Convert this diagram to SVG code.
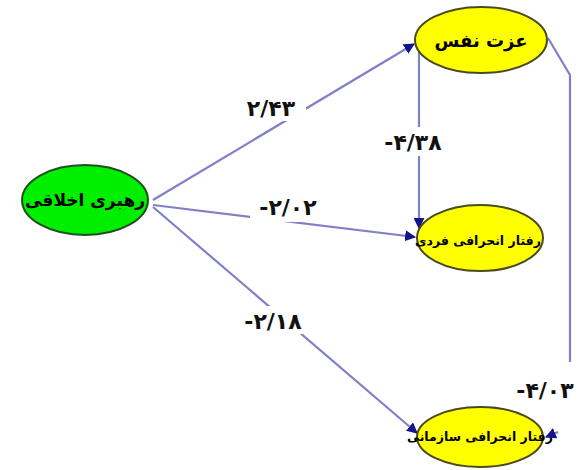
<svg xmlns="http://www.w3.org/2000/svg" width="586" height="470" viewBox="0 0 586 470">
<style>
.edge{fill:none;stroke:#8080c8;stroke-width:2.2}
.node{stroke:#4a4a20;stroke-width:2}
.g{fill:#00ee00;stroke:#205020}
.y{fill:#ffff00}
.nt{font-family:"DejaVu Sans",sans-serif;font-weight:bold;fill:#000;text-anchor:middle;dominant-baseline:central}
.lb{font-family:"DejaVu Sans",sans-serif;font-weight:bold;fill:#111;font-size:22px;letter-spacing:3px;text-anchor:middle;dominant-baseline:central}
</style>
<defs>
<marker id="ah" viewBox="0 0 10 10" refX="9" refY="5" markerWidth="5" markerHeight="5" orient="auto" markerUnits="strokeWidth">
<path d="M0,0 L10,5 L0,10 z" fill="#14148c"/>
</marker>
</defs>
<rect width="586" height="470" fill="#fff"/>
<g id="connectors">
<line class="edge" x1="153" y1="200" x2="414" y2="44" marker-end="url(#ah)"/>
<line class="edge" x1="153" y1="205" x2="415" y2="237" marker-end="url(#ah)"/>
<line class="edge" x1="153" y1="207" x2="417" y2="433" marker-end="url(#ah)"/>
<line class="edge" x1="419" y1="44" x2="419" y2="228" marker-end="url(#ah)"/>
<polyline class="edge" points="548,38 570,75 570,362"/>
<line class="edge" x1="558" y1="432" x2="546" y2="437" marker-end="url(#ah)"/>
<g fill="#fff">
<rect x="236" y="95" width="70" height="26"/>
<rect x="250" y="194" width="72" height="28"/>
<rect x="231" y="306" width="82" height="28"/>
<rect x="370" y="127" width="86" height="29"/>
<rect x="502" y="376" width="84" height="28"/>
</g>
<text class="lb" x="271" y="108">۲/۴۳</text>
<text class="lb" x="288" y="207">-۲/۰۲</text>
<text class="lb" x="273" y="321">-۲/۱۸</text>
<text class="lb" x="413" y="142">-۴/۳۸</text>
<text class="lb" x="545" y="390">-۴/۰۳</text>
</g>
<g id="n1">
<ellipse class="node g" cx="85" cy="200" rx="63" ry="35"/>
<text class="nt" x="85" y="200" font-size="17">رهبری اخلاقی</text>
</g>
<g id="n2">
<ellipse class="node y" cx="481" cy="40" rx="66" ry="33"/>
<text class="nt" x="481" y="40" font-size="18">عزت نفس</text>
</g>
<g id="n3">
<ellipse class="node y" cx="480" cy="238" rx="63" ry="33"/>
<text class="nt" x="478" y="240" font-size="12.5">رفتار انحرافی فردی</text>
</g>
<g id="n4">
<ellipse class="node y" cx="480" cy="437" rx="63" ry="30"/>
<text class="nt" x="480" y="436" font-size="12.5">رفتار انحرافی سازمانی</text>
</g>
</svg>
